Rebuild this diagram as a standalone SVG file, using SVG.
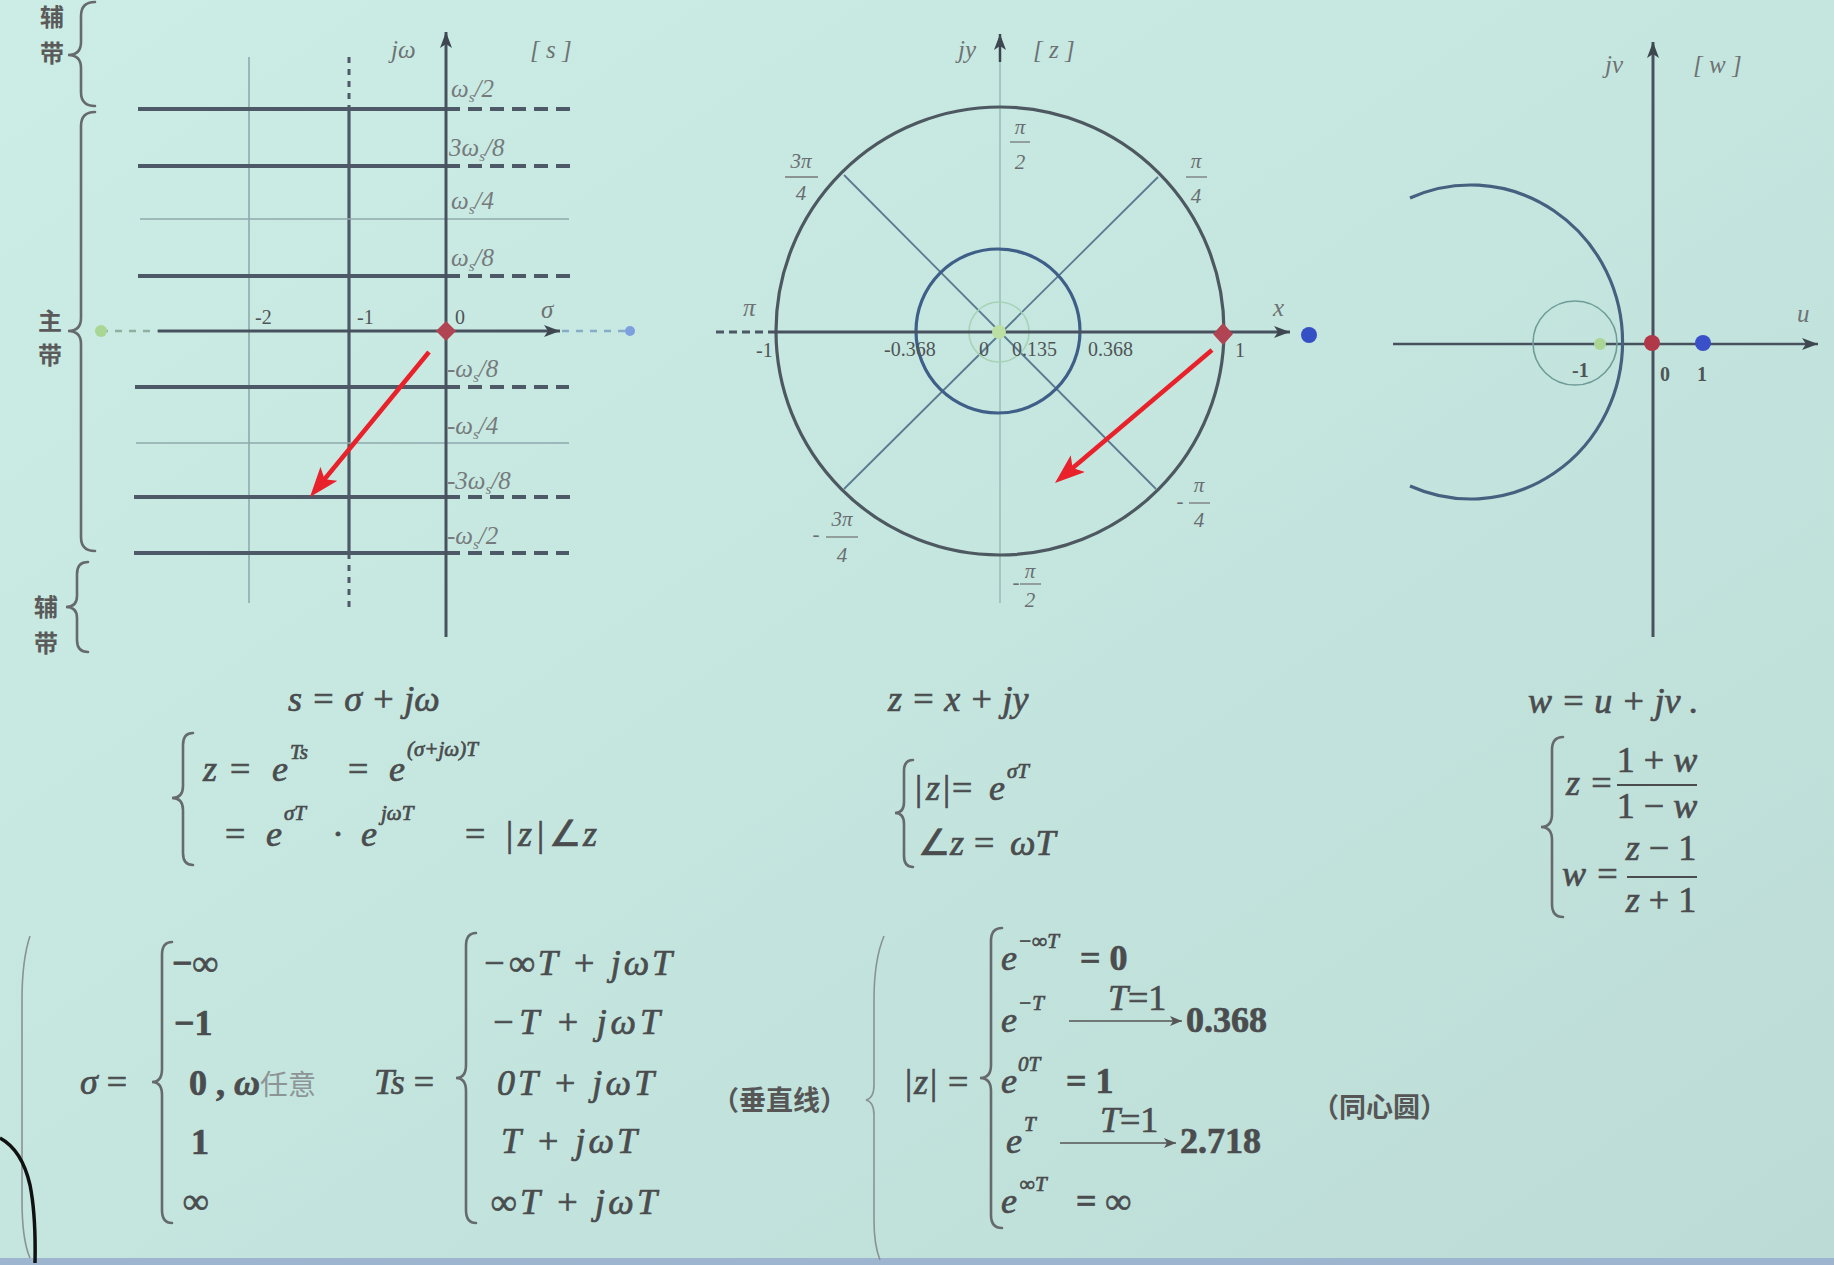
<svg xmlns="http://www.w3.org/2000/svg" width="1834" height="1265" viewBox="0 0 1834 1265">
<defs>
<linearGradient id="bg" x1="0" y1="0" x2="1" y2="1">
<stop offset="0" stop-color="#cbede5"/>
<stop offset="0.5" stop-color="#c4e6df"/>
<stop offset="1" stop-color="#bddbd6"/>
</linearGradient>
<marker id="ax" viewBox="0 0 16 12" refX="16" refY="6" markerWidth="16" markerHeight="12" markerUnits="userSpaceOnUse" orient="auto"><path d="M0,0 L16,6 L0,12 L4,6 z" fill="#3e4650"/></marker>
<marker id="red" viewBox="0 0 30 22" refX="20" refY="11" markerWidth="30" markerHeight="22" markerUnits="userSpaceOnUse" orient="auto"><path d="M0,0 L30,11 L0,22 L7,11 z" fill="#e8212b"/></marker>
<marker id="tiny" viewBox="0 0 12 10" refX="12" refY="5" markerWidth="12" markerHeight="10" markerUnits="userSpaceOnUse" orient="auto"><path d="M0,0 L12,5 L0,10 L3,5 z" fill="#555"/></marker>
<style>
.lab{font-family:"Liberation Serif",serif;font-style:italic;fill:#6e7274;font-size:25px}
.wl{font-family:"Liberation Serif",serif;font-style:italic;fill:#767a7c;font-size:25px}
.sb{font-size:15px}
.num{font-family:"Liberation Serif",serif;fill:#505456;font-size:20px}
.frac{font-family:"Liberation Serif",serif;font-style:italic;fill:#6a6e70;font-size:21px;text-anchor:middle}
.eq{font-family:"Liberation Serif",serif;font-style:italic;fill:#4a4c4e;font-size:36px;stroke:#4a4c4e;stroke-width:0.7}
.eqn{font-family:"Liberation Serif",serif;font-style:normal;fill:#4a4c4e;font-size:36px;stroke:#4a4c4e;stroke-width:0.7}
.bold{font-weight:bold}
.sup{font-size:21px}
.cjk{font-family:"Liberation Serif","Noto Sans CJK SC",sans-serif;font-weight:bold;fill:#565656;font-size:27px}
.side{font-family:"Noto Sans CJK SC",sans-serif;font-weight:bold;fill:#5a5a5a;font-size:24px}
.thick{stroke:#4e5967;stroke-width:4;fill:none}
.dash{stroke:#4e5967;stroke-width:4;stroke-dasharray:14 8;fill:none}
.thin{stroke:#8fa9ad;stroke-width:1.6;fill:none}
.brace{stroke:#666a6c;stroke-width:2.6;fill:none;stroke-linecap:round}
.lbrace{stroke:#8a9294;stroke-width:1.6;fill:none}
.axis{stroke:#48525e;stroke-width:3;fill:none}
</style>
</defs>
<rect width="1834" height="1265" fill="url(#bg)"/>
<rect x="0" y="1258" width="1834" height="7" fill="#9db5cf"/>

<!-- s-plane -->
<g id="s-plane">
<path class="brace" d="M95,2 Q81,2 81,16 L81,42 Q81,55 68,55 Q81,55 81,68 L81,92 Q81,106 95,106"/>
<path class="brace" d="M95,112 Q81,112 81,126 L81,318 Q81,331 68,331 Q81,331 81,344 L81,537 Q81,551 95,551"/>
<path class="brace" d="M88,562 Q77,562 77,574 L77,596 Q77,607 66,607 Q77,607 77,618 L77,640 Q77,652 88,652"/>
<text class="side" x="40" y="26">辅</text>
<text class="side" x="40" y="62">带</text>
<text class="side" x="38" y="330">主</text>
<text class="side" x="38" y="364">带</text>
<text class="side" x="34" y="616">辅</text>
<text class="side" x="34" y="652">带</text>

<line class="thin" x1="249" y1="57" x2="249" y2="603"/>
<line x1="349" y1="57" x2="349" y2="109" stroke="#4e5967" stroke-width="3" stroke-dasharray="6 6"/>
<line x1="349" y1="109" x2="349" y2="553" stroke="#4e5967" stroke-width="3.2"/>
<line x1="349" y1="553" x2="349" y2="608" stroke="#4e5967" stroke-width="3" stroke-dasharray="6 6"/>

<line class="thin" x1="140" y1="219" x2="569" y2="219"/>
<line class="thin" x1="136" y1="443" x2="569" y2="443"/>
<g>
<line class="thick" x1="138" y1="109" x2="446" y2="109"/><line class="dash" x1="446" y1="109" x2="573" y2="109"/>
<line class="thick" x1="138" y1="166" x2="446" y2="166"/><line class="dash" x1="446" y1="166" x2="573" y2="166"/>
<line class="thick" x1="138" y1="276" x2="446" y2="276"/><line class="dash" x1="446" y1="276" x2="571" y2="276"/>
<line class="thick" x1="135" y1="387" x2="446" y2="387"/><line class="dash" x1="446" y1="387" x2="569" y2="387"/>
<line class="thick" x1="134" y1="497" x2="446" y2="497"/><line class="dash" x1="446" y1="497" x2="571" y2="497"/>
<line class="thick" x1="134" y1="553" x2="446" y2="553"/><line class="dash" x1="446" y1="553" x2="569" y2="553"/>
</g>
<line class="axis" x1="446" y1="637" x2="446" y2="32" marker-end="url(#ax)"/>
<line x1="101" y1="331" x2="158" y2="331" stroke="#8fb0a0" stroke-width="2.5" stroke-dasharray="7 7"/>
<line class="axis" x1="158" y1="331" x2="560" y2="331" marker-end="url(#ax)"/>
<line x1="562" y1="331" x2="626" y2="331" stroke="#88acc8" stroke-width="2.5" stroke-dasharray="7 7"/>
<circle cx="101" cy="331" r="6" fill="#a9d693"/>
<circle cx="630" cy="331" r="5" fill="#7d9fe0"/>
<polygon points="446,321 456,331 446,341 436,331" fill="#b04452"/>

<text class="lab" x="391" y="58">jω</text>
<text class="lab" x="530" y="58" fill="#8a8e90">[ s ]</text>
<text class="num" x="255" y="324">-2</text>
<text class="num" x="357" y="324">-1</text>
<text class="num" x="455" y="324">0</text>
<text class="lab" x="541" y="318">σ</text>
<text class="wl" x="451" y="97">ω<tspan class="sb" dy="5">s</tspan><tspan dy="-5">/2</tspan></text>
<text class="wl" x="449" y="156">3ω<tspan class="sb" dy="5">s</tspan><tspan dy="-5">/8</tspan></text>
<text class="wl" x="451" y="209">ω<tspan class="sb" dy="5">s</tspan><tspan dy="-5">/4</tspan></text>
<text class="wl" x="451" y="266">ω<tspan class="sb" dy="5">s</tspan><tspan dy="-5">/8</tspan></text>
<text class="wl" x="447" y="377">-ω<tspan class="sb" dy="5">s</tspan><tspan dy="-5">/8</tspan></text>
<text class="wl" x="447" y="434">-ω<tspan class="sb" dy="5">s</tspan><tspan dy="-5">/4</tspan></text>
<text class="wl" x="447" y="489">-3ω<tspan class="sb" dy="5">s</tspan><tspan dy="-5">/8</tspan></text>
<text class="wl" x="447" y="544">-ω<tspan class="sb" dy="5">s</tspan><tspan dy="-5">/2</tspan></text>
</g>

<!-- z-plane -->
<g id="z-plane">
<line x1="1000" y1="603" x2="1000" y2="60" stroke="#93b8b4" stroke-width="1.4"/>
<line x1="1000" y1="62" x2="1000" y2="34" stroke="#3e4650" stroke-width="2.5" marker-end="url(#ax)"/>
<line x1="844" y1="175" x2="1156" y2="489" stroke="#5b7a92" stroke-width="1.8"/>
<line x1="1158" y1="177" x2="844" y2="489" stroke="#5b7a92" stroke-width="1.8"/>
<circle cx="1000" cy="331" r="224" fill="none" stroke="#4d5860" stroke-width="3.2"/>
<circle cx="998" cy="331" r="82" fill="none" stroke="#3f5e88" stroke-width="3.2"/>
<circle cx="999" cy="332" r="30" fill="none" stroke="#a6d2b6" stroke-width="1.6"/>
<line x1="716" y1="332" x2="770" y2="332" stroke="#4d5866" stroke-width="3" stroke-dasharray="8 5"/>
<line class="axis" x1="770" y1="332" x2="1290" y2="332" marker-end="url(#ax)"/>
<circle cx="999" cy="332" r="7" fill="#bcdfa4"/>
<circle cx="1309" cy="335" r="8" fill="#3550c4"/>
<polygon points="1223,323 1233,334 1223,345 1213,334" fill="#b04452"/>

<text class="lab" x="958" y="58">jy</text>
<text class="lab" x="1033" y="58" fill="#8a8e90">[ z ]</text>
<text class="frac" x="1020" y="134">π</text><line x1="1010" y1="142" x2="1030" y2="142" stroke="#777" stroke-width="1.3"/><text class="frac" x="1020" y="169">2</text>
<text class="frac" x="801" y="168">3π</text><line x1="785" y1="177" x2="818" y2="177" stroke="#777" stroke-width="1.3"/><text class="frac" x="801" y="200">4</text>
<text class="frac" x="1196" y="168">π</text><line x1="1186" y1="177" x2="1207" y2="177" stroke="#777" stroke-width="1.3"/><text class="frac" x="1196" y="203">4</text>
<text class="frac" x="816" y="541">-</text>
<text class="frac" x="842" y="526">3π</text><line x1="826" y1="537" x2="858" y2="537" stroke="#777" stroke-width="1.3"/><text class="frac" x="842" y="562">4</text>
<text class="frac" x="1180" y="508">-</text>
<text class="frac" x="1199" y="492">π</text><line x1="1189" y1="503" x2="1210" y2="503" stroke="#777" stroke-width="1.3"/><text class="frac" x="1199" y="527">4</text>
<text class="frac" x="1016" y="589">-</text>
<text class="frac" x="1030" y="578">π</text><line x1="1020" y1="584" x2="1041" y2="584" stroke="#777" stroke-width="1.3"/><text class="frac" x="1030" y="607">2</text>
<text class="lab" x="743" y="316">π</text>
<text class="lab" x="1273" y="316">x</text>
<text class="num" x="756" y="357">-1</text>
<text class="num" x="884" y="356">-0.368</text>
<text class="num" x="979" y="356">0</text>
<text class="num" x="1012" y="356">0.135</text>
<text class="num" x="1088" y="356">0.368</text>
<text class="num" x="1235" y="357">1</text>
</g>

<!-- w-plane -->
<g id="w-plane">
<line class="axis" x1="1653" y1="637" x2="1653" y2="42" marker-end="url(#ax)"/>
<line x1="1393" y1="344" x2="1818" y2="344" stroke="#48525e" stroke-width="2.5" marker-end="url(#ax)"/>
<path d="M1410,198 A152,157 0 1,1 1410,486" fill="none" stroke="#46607f" stroke-width="3.2"/>
<circle cx="1575" cy="343" r="42" fill="none" stroke="#6f9c98" stroke-width="1.6"/>
<circle cx="1600" cy="344" r="6" fill="#a9d693"/>
<circle cx="1652" cy="343" r="8" fill="#b03848"/>
<circle cx="1703" cy="343" r="8" fill="#3a50c8"/>
<text class="lab" x="1605" y="73">jv</text>
<text class="lab" x="1693" y="73" fill="#8a8e90">[ w ]</text>
<text class="lab" x="1797" y="322" font-size="20">u</text>
<text class="num" x="1572" y="377" font-weight="bold">-1</text>
<text class="num" x="1660" y="381" font-weight="bold" font-size="24">0</text>
<text class="num" x="1697" y="381" font-weight="bold" font-size="24">1</text>
</g>

<!-- connectors -->
<g id="connectors">
<line x1="429" y1="352" x2="316.3" y2="489.3" stroke="#e8212b" stroke-width="4.5" marker-end="url(#red)"/>
<line x1="1212" y1="350" x2="1062.6" y2="476.5" stroke="#e8212b" stroke-width="4.5" marker-end="url(#red)"/>
</g>

<!-- s equations -->
<g id="eq-s">
<text class="eq" x="288" y="711">s = σ + jω</text>
<path class="brace" d="M193,733 Q183,733 183,745 L183,786 Q183,798 172,798 Q183,798 183,810 L183,853 Q183,865 193,865"/>
<text class="eq" y="781"><tspan x="203">z</tspan><tspan x="230" class="eqn">=</tspan><tspan x="272">e</tspan><tspan x="290" y="759" class="sup">Ts</tspan><tspan x="348" y="781" class="eqn">=</tspan><tspan x="389">e</tspan><tspan x="407" y="756" class="sup">(σ+jω)T</tspan></text>
<text class="eq" y="846"><tspan x="225" class="eqn">=</tspan><tspan x="266">e</tspan><tspan x="284" y="820" class="sup">σT</tspan><tspan x="332" y="846" class="eqn">·</tspan><tspan x="361">e</tspan><tspan x="381" y="820" class="sup">jωT</tspan><tspan x="465" y="846" class="eqn">=</tspan><tspan x="506" class="eqn">|</tspan><tspan x="518">z</tspan><tspan x="537" class="eqn">|</tspan><tspan x="549" class="eqn">∠</tspan><tspan x="583">z</tspan></text>
</g>

<!-- z equations -->
<g id="eq-z">
<text class="eq" x="888" y="711">z = x + jy</text>
<path class="brace" d="M913,760 Q904,760 904,771 L904,802 Q904,813 895,813 Q904,813 904,824 L904,856 Q904,867 913,867"/>
<text class="eq" y="800"><tspan x="915" class="eqn">|</tspan><tspan x="926">z</tspan><tspan x="943" class="eqn">|</tspan><tspan x="952" class="eqn">=</tspan><tspan x="989">e</tspan><tspan x="1007" y="778" class="sup">σT</tspan></text>
<text class="eq" y="855"><tspan x="918" class="eqn">∠</tspan><tspan x="950">z</tspan><tspan x="974" class="eqn">=</tspan><tspan x="1010">ωT</tspan></text>
</g>

<!-- w equations -->
<g id="eq-w">
<text class="eq" x="1528" y="713">w = u + jv .</text>
<path class="brace" d="M1563,737 Q1552,737 1552,750 L1552,814 Q1552,827 1541,827 Q1552,827 1552,840 L1552,904 Q1552,917 1563,917"/>
<text class="eq" x="1566" y="795" font-size="32">z =</text>
<text class="eqn" x="1657" y="772" font-size="32" text-anchor="middle">1 + <tspan font-style="italic">w</tspan></text>
<line x1="1617" y1="785" x2="1697" y2="785" stroke="#4a4c4e" stroke-width="2"/>
<text class="eqn" x="1657" y="818" font-size="32" text-anchor="middle">1 − <tspan font-style="italic">w</tspan></text>
<text class="eq" x="1562" y="886" font-size="32">w =</text>
<text class="eq" x="1661" y="860" font-size="32" text-anchor="middle">z <tspan font-style="normal">− 1</tspan></text>
<line x1="1627" y1="877" x2="1697" y2="877" stroke="#4a4c4e" stroke-width="2"/>
<text class="eq" x="1661" y="912" font-size="32" text-anchor="middle">z <tspan font-style="normal">+ 1</tspan></text>
</g>

<!-- sigma cases -->
<g id="cases-sigma">
<path class="lbrace" d="M30,936 Q22,960 22,1000 L22,1200 Q22,1240 30,1258"/>
<text class="eq" x="80" y="1094">σ <tspan class="eqn">=</tspan></text>
<path class="brace" d="M172,942 Q162,942 162,955 L162,1069 Q162,1082 152,1082 Q162,1082 162,1095 L162,1210 Q162,1223 172,1223"/>
<text class="eqn bold" x="172" y="975" font-size="32">−∞</text>
<text class="eqn bold" x="174" y="1035" font-size="32">−1</text>
<text class="eqn bold" x="189" y="1095" font-size="32">0 , <tspan font-style="italic">ω</tspan><tspan fill="#8d9496" stroke="none" font-weight="normal" font-family="Noto Sans CJK SC, sans-serif" font-size="28">任意</tspan></text>
<text class="eqn bold" x="191" y="1154" font-size="32">1</text>
<text class="eqn bold" x="183" y="1213" font-size="32">∞</text>
<text class="eq" x="374" y="1094">Ts <tspan class="eqn">=</tspan></text>
<path class="brace" d="M476,933 Q466,933 466,946 L466,1065 Q466,1078 456,1078 Q466,1078 466,1091 L466,1210 Q466,1223 476,1223"/>
<text class="eq" x="482" y="975" textLength="190" lengthAdjust="spacing">−∞T + jωT</text>
<text class="eq" x="491" y="1034" textLength="169" lengthAdjust="spacing">−T + jωT</text>
<text class="eq" x="497" y="1095" textLength="157" lengthAdjust="spacing">0T + jωT</text>
<text class="eq" x="501" y="1153" textLength="136" lengthAdjust="spacing">T + jωT</text>
<text class="eq" x="491" y="1214" textLength="166" lengthAdjust="spacing">∞T + jωT</text>
<text class="cjk" x="712" y="1110">（垂直线）</text>
</g>

<!-- |z| cases -->
<g id="cases-z">
<path class="lbrace" d="M884,936 Q874,960 874,1000 L874,1085 Q874,1098 866,1100 Q874,1102 874,1115 L874,1220 Q874,1245 880,1260"/>
<text class="eq" y="1094"><tspan x="905" class="eqn">|</tspan><tspan x="914">z</tspan><tspan x="930" class="eqn">|</tspan><tspan x="948" class="eqn">=</tspan></text>
<path class="brace" d="M1002,928 Q991,928 991,941 L991,1065 Q991,1078 980,1078 Q991,1078 991,1091 L991,1215 Q991,1228 1002,1228"/>
<text class="eq" y="970"><tspan x="1001">e</tspan><tspan x="1018" y="948" class="sup">−∞T</tspan><tspan x="1080" y="970" class="eqn bold">= 0</tspan></text>
<text class="eq" y="1032"><tspan x="1001">e</tspan><tspan x="1018" y="1010" class="sup">−T</tspan><tspan x="1186" y="1032" class="eqn bold">0.368</tspan></text>
<line x1="1069" y1="1021" x2="1182" y2="1021" stroke="#555" stroke-width="1.6" marker-end="url(#tiny)"/>
<text class="eq" x="1108" y="1010" font-size="17" stroke-width="0.3">T<tspan class="eqn" font-size="17" stroke-width="0.3">=1</tspan></text>
<text class="eq" y="1093"><tspan x="1001">e</tspan><tspan x="1018" y="1071" class="sup">0T</tspan><tspan x="1066" y="1093" class="eqn bold">= 1</tspan></text>
<text class="eq" y="1153"><tspan x="1006">e</tspan><tspan x="1024" y="1131" class="sup">T</tspan><tspan x="1180" y="1153" class="eqn bold">2.718</tspan></text>
<line x1="1060" y1="1143" x2="1176" y2="1143" stroke="#555" stroke-width="1.6" marker-end="url(#tiny)"/>
<text class="eq" x="1100" y="1132" font-size="17" stroke-width="0.3">T<tspan class="eqn" font-size="17" stroke-width="0.3">=1</tspan></text>
<text class="eq" y="1213"><tspan x="1001">e</tspan><tspan x="1020" y="1191" class="sup">∞T</tspan><tspan x="1076" y="1213" class="eqn bold">= ∞</tspan></text>
<text class="cjk" x="1312" y="1117">（同心圆）</text>
</g>

<path d="M0,1138 Q22,1150 30,1185 Q36,1215 35,1263" fill="none" stroke="#111" stroke-width="3.5"/>
</svg>
